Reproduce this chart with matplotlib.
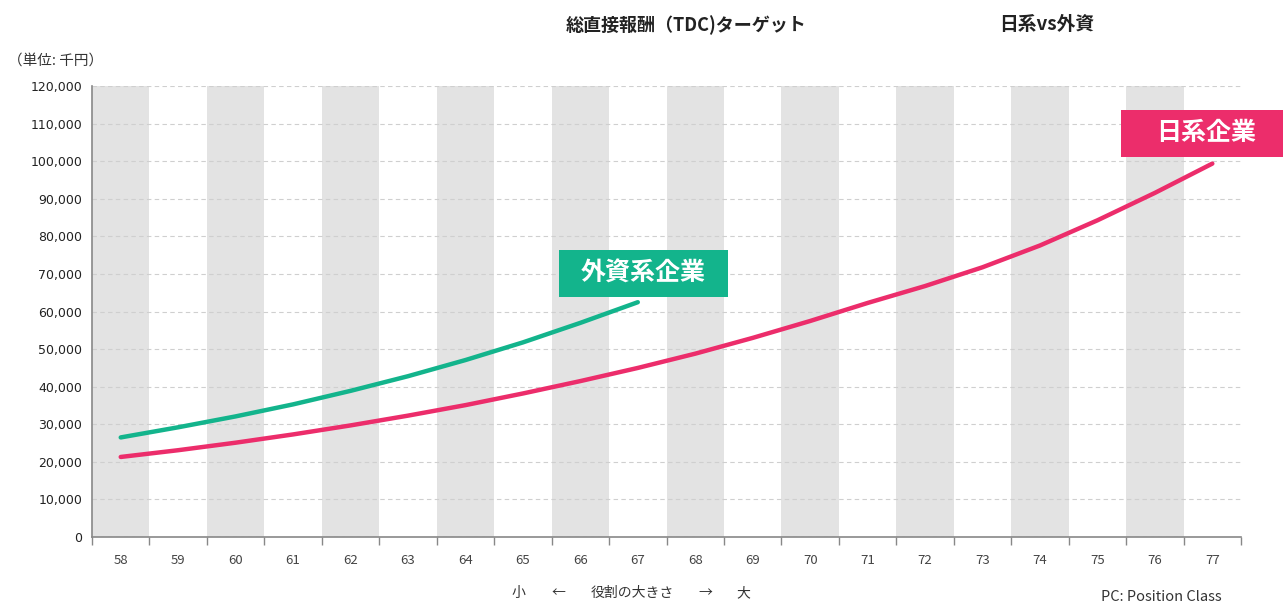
#!/usr/bin/env python3

import matplotlib
matplotlib.use('Agg')
import matplotlib.pyplot as plt
from matplotlib.patches import Rectangle
from matplotlib.ticker import FuncFormatter

plt.rcParams['font.family'] = ['Noto Sans CJK JP', 'DejaVu Sans']

# Position class on the x axis
classes = list(range(58, 78))

# Total direct compensation target (thousand yen)
japanese = [21300, 23100, 25100, 27300, 29700, 32300, 35100, 38200, 41500, 45000,
            48800, 53000, 57500, 62300, 66800, 71800, 77600, 84300, 91600, 99400]
foreign_classes = list(range(58, 68))
foreign = [26500, 29200, 32100, 35300, 38900, 42800, 47100, 51800, 57000, 62500]

GREEN = '#13b48c'
PINK = '#ec2d6b'

fig = plt.figure(figsize=(12.83, 6.03), dpi=100)
ax = fig.add_axes([0.0717, 0.1095, 0.8956, 0.7475])

# alternating grey column bands
for c in classes[::2]:
    ax.axvspan(c - 0.5, c + 0.5, color='#e3e3e3', lw=0, zorder=0)

ax.set_xlim(57.5, 77.5)
ax.set_ylim(0, 120000)
ax.set_yticks(range(0, 120001, 10000))
ax.yaxis.set_major_formatter(FuncFormatter(lambda v, p: f'{int(v):,}'))
ax.set_xticks(classes)
ax.set_xticks([c + 0.5 for c in [57] + classes], minor=True)
ax.tick_params(axis='x', which='major', length=0, pad=12, labelsize=9.5, labelcolor='#444')
ax.tick_params(axis='x', which='minor', length=6, width=1, color='#888', direction='out')
ax.tick_params(axis='y', length=0, pad=7, labelsize=9, labelcolor='#222',
               labelfontfamily='DejaVu Sans')

ax.grid(axis='y', linestyle=(0, (4, 3)), color='#cfcfcf', linewidth=0.8, zorder=1)
ax.set_axisbelow(True)
for side in ['top', 'right']:
    ax.spines[side].set_visible(False)
for side in ['left', 'bottom']:
    ax.spines[side].set_color('#888')
    ax.spines[side].set_linewidth(1.2)

ax.plot(classes, japanese, color=PINK, lw=3.2, solid_capstyle='round', zorder=3)
ax.plot(foreign_classes, foreign, color=GREEN, lw=3.2, solid_capstyle='round', zorder=3)

# series name boxes
ax.add_patch(Rectangle((65.62, 63800), 2.95, 12700, color=GREEN, lw=0, zorder=4, clip_on=False))
ax.text(67.1, 70150, '外資系企業', color='white', fontsize=18, fontweight='bold',
        ha='center', va='center', zorder=5)
ax.add_patch(Rectangle((75.41, 101200), 2.9, 12500, color=PINK, lw=0, zorder=4, clip_on=False))
ax.text(76.9, 107450, '日系企業', color='white', fontsize=18, fontweight='bold',
        ha='center', va='center', zorder=5, clip_on=False)

fig.text(686 / 1283, 1 - 25 / 603, '総直接報酬（TDC)ターゲット', fontsize=13, fontweight='bold',
         ha='center', va='center', color='#222')
fig.text(1047 / 1283, 1 - 25 / 603, '日系vs外資', fontsize=13.5, fontweight='bold',
         ha='center', va='center', color='#222')
fig.text(8 / 1283, 1 - 61 / 603, '（単位: 千円）', fontsize=10.5, ha='left', va='center', color='#333')

# role size caption under the x axis
for x, s in [(518, '小'), (558, '←'), (632, '役割の大きさ'), (705, '→'), (743, '大')]:
    fig.text(x / 1283, 1 - 593 / 603, s, fontsize=10, ha='center', va='center', color='#333')
fig.text(1222 / 1283, 1 - 597 / 603, 'PC: Position Class', fontsize=10.5, ha='right', va='center', color='#333')

plt.savefig('out.png', dpi=100)
